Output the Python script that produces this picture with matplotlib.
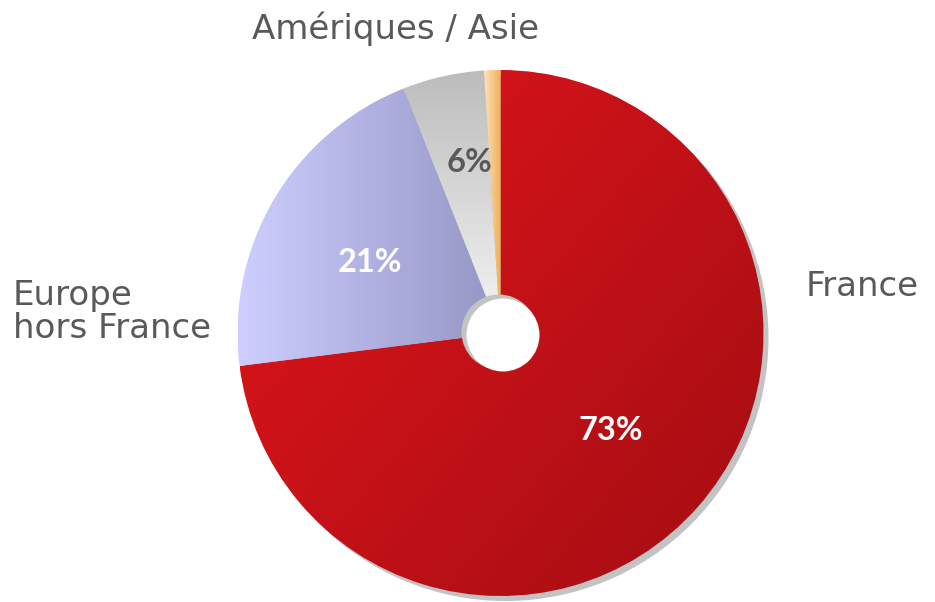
import numpy as np
import matplotlib
matplotlib.use("Agg")
import matplotlib.pyplot as plt
from matplotlib.colors import to_rgb
from matplotlib.patches import Circle

# ---- data ----
categories = ["France", "Europe hors France", "Amériques", "Asie"]
values = [73, 21, 5, 1]
pct_labels = ["73%", "21%", "6%"]
outer_labels = ["France", "Europe\nhors France", "Amériques / Asie"]

# gradient colours (start, end, direction angle in degrees)
grads = [
    ("#e2161b", "#a30d13", -40),   # France: top-left -> bottom-right
    ("#ceceff", "#9595c4", 0),     # Europe: left -> right
    ("#bcbcbc", "#f6f6f6", -90),   # Amériques: top -> bottom
    ("#fde3bb", "#f0ae55", 0),     # Asie: left -> right
]

W, H = 935, 602
fig = plt.figure(figsize=(W / 100, H / 100), dpi=100)
ax = fig.add_axes([0, 0, 1, 1])

cx, cy, R = 500.5, H - 333, 263

# shadow
ax.add_patch(Circle((cx + 5, cy - 5), R, facecolor="#c3c3c3", edgecolor="none", zorder=1))

wedges, _ = ax.pie(values, radius=R, center=(cx, cy), startangle=90,
                   counterclock=False, frame=True,
                   wedgeprops=dict(linewidth=0, edgecolor="none"))
ax.set_xlim(0, W)
ax.set_ylim(0, H)
ax.axis("off")


def grad_fill(w, c1, c2, ang):
    w.set_facecolor("none")
    w.set_zorder(2)
    th = np.radians(np.linspace(w.theta1, w.theta2, 100))
    xs = np.concatenate([[w.center[0]], w.center[0] + w.r * np.cos(th)])
    ys = np.concatenate([[w.center[1]], w.center[1] + w.r * np.sin(th)])
    x0, x1, y0, y1 = xs.min(), xs.max(), ys.min(), ys.max()
    n = 200
    X, Y = np.meshgrid(np.linspace(x0, x1, n), np.linspace(y0, y1, n))
    d = np.array([np.cos(np.radians(ang)), np.sin(np.radians(ang))])
    t = X * d[0] + Y * d[1]
    t = (t - t.min()) / (t.max() - t.min())
    a, b = np.array(to_rgb(c1)), np.array(to_rgb(c2))
    img = a[None, None, :] * (1 - t[..., None]) + b[None, None, :] * t[..., None]
    im = ax.imshow(img, extent=(x0, x1, y0, y1), origin="lower",
                   interpolation="bilinear", zorder=2, aspect="auto")
    im.set_clip_path(w)


for w, (c1, c2, ang) in zip(wedges, grads):
    grad_fill(w, c1, c2, ang)
ax.set_xlim(0, W)
ax.set_ylim(0, H)

# hole with inner shadow
ax.add_patch(Circle((cx - 1.5, H - 332), 37.5, facecolor="#c3c3c3", edgecolor="none", zorder=5))
ax.add_patch(Circle((cx + 2.5, H - 335), 36.5, facecolor="white", edgecolor="none", zorder=6))

pfam = ["Lato", "DejaVu Sans"]
lfam = ["DejaVu Sans"]
grey = "#595959"
# percentage labels
ax.text(611, H - 431, pct_labels[0], color="white", fontsize=23.5, fontweight="bold",
        family=pfam, ha="center", va="center", zorder=7)
ax.text(370, H - 262, pct_labels[1], color="white", fontsize=23.5, fontweight="bold",
        family=pfam, ha="center", va="center", zorder=7)
ax.text(470, H - 162, pct_labels[2], color=grey, fontsize=23.5, fontweight="bold",
        family=pfam, ha="center", va="center", zorder=7)

# category labels
ax.text(806, H - 296, outer_labels[0], color=grey, fontsize=24.5, family=lfam,
        ha="left", va="baseline", zorder=7)
ax.text(13, H - 338, outer_labels[1], color=grey, fontsize=24.5, family=lfam,
        ha="left", va="baseline", linespacing=1.0, zorder=7)
ax.text(395, H - 39, outer_labels[2], color=grey, fontsize=24.5, family=lfam,
        ha="center", va="baseline", zorder=7)

fig.savefig("out.png", dpi=100)
